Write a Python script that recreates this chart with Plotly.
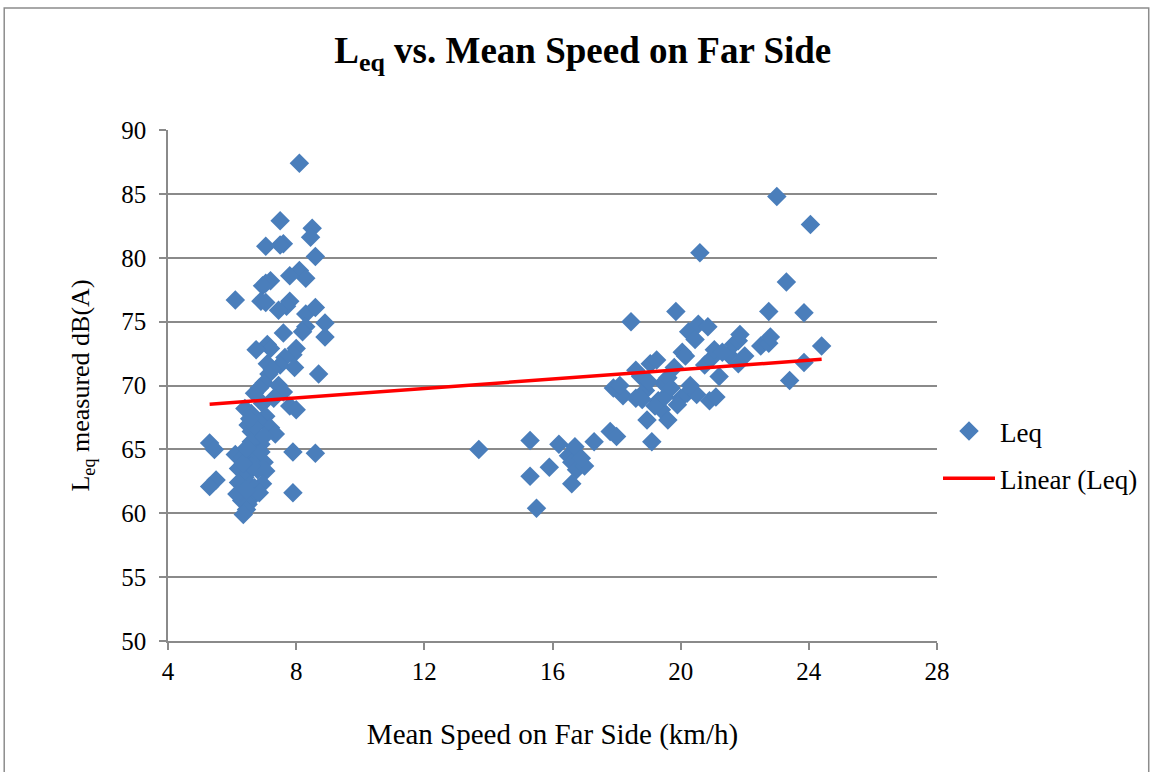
import numpy as np
import plotly.graph_objects as go

# Left cluster (low speed) and right cluster (high speed)
speed_low = [8.1, 7.5, 8.5, 8.45, 7.6, 7.5, 7.05, 8.6, 8.1, 8.3, 7.8, 7.2, 7.05, 6.95, 6.1, 6.9,
             7.05, 7.8, 7.7, 7.45, 8.3, 8.6, 8.9, 8.9, 8.3, 8.2, 7.6, 7.1, 7.2, 6.75, 8.0, 7.9,
             7.65, 7.5, 7.1, 7.25, 7.15, 7.95, 8.7, 7.0, 6.85, 6.7, 7.45, 7.6, 7.3, 7.8, 8.0,
             6.4, 6.6, 6.95, 7.05, 6.85, 6.5, 7.2, 7.35, 6.6, 6.8, 6.9, 6.6, 7.0, 5.3, 5.45,
             6.1, 7.9, 8.6, 6.3, 6.6, 7.0, 6.75, 6.2, 6.5, 6.8, 7.05, 6.4, 5.5, 5.3, 6.2, 6.55,
             6.95, 6.7, 7.9, 6.3, 6.65, 6.85, 6.5, 6.45, 6.35, 6.15, 6.45, 6.6, 6.35, 6.9, 6.45,
             6.7, 6.55]
leq_low = [87.4, 82.9, 82.3, 81.6, 81.1, 81.0, 80.9, 80.1, 79.0, 78.4, 78.6, 78.2, 78.0, 77.8, 76.7, 76.6,
           76.5, 76.6, 76.2, 75.9, 75.6, 76.1, 74.9, 73.8, 74.6, 74.2, 74.1, 73.2, 72.9, 72.8, 72.9, 72.4,
           72.2, 71.6, 71.7, 71.3, 70.9, 71.4, 70.9, 70.2, 69.8, 69.4, 70.0, 69.5, 69.0, 68.4, 68.1,
           68.2, 67.8, 68.6, 67.6, 67.1, 66.9, 66.7, 66.2, 66.4, 65.9, 65.4, 65.6, 66.0, 65.5, 65.0,
           64.6, 64.8, 64.7, 64.3, 64.1, 64.0, 64.6, 63.5, 63.2, 63.4, 63.3, 62.8, 62.6, 62.1, 62.4, 62.2,
           62.3, 62.0, 61.6, 61.0, 61.3, 61.6, 60.7, 60.3, 59.9, 61.5, 61.8, 63.7, 63.9, 64.8, 65.1,
           66.8, 67.4]

speed_high = [13.7, 15.3, 15.3, 15.5, 15.9, 16.2, 16.5, 16.6, 16.7, 16.75, 16.6, 17.0, 16.9, 17.3, 17.8,
              18.0, 17.9, 18.2, 18.1, 18.45, 18.6, 18.75, 18.6, 18.9, 19.05, 19.25, 18.95, 19.1, 19.3,
              19.4, 19.6, 19.5, 19.45, 19.6, 19.8, 19.85, 20.05, 20.15, 20.25, 20.45, 20.55, 20.6, 20.85,
              20.2, 20.5, 20.0, 20.75, 20.95, 20.9, 21.1, 21.05, 21.2, 21.5, 21.65, 21.8, 21.85, 22.0,
              21.8, 22.5, 22.75, 22.8, 22.75, 23.0, 23.3, 23.4, 23.85, 24.05, 23.85, 24.4, 19.2, 19.7,
              18.8, 19.0, 20.3, 19.9, 21.3]
leq_high = [65.0, 65.7, 62.9, 60.4, 63.6, 65.4, 64.5, 64.0, 65.2, 63.4, 62.3, 63.7, 64.3, 65.6, 66.4,
            66.0, 69.8, 69.2, 70.0, 75.0, 71.2, 70.7, 69.0, 69.6, 71.7, 72.0, 67.3, 65.6, 68.8,
            68.1, 67.3, 69.1, 70.2, 70.6, 71.4, 75.8, 72.6, 72.3, 74.2, 73.6, 74.8, 80.4, 74.6,
            69.4, 69.3, 69.0, 71.6, 72.1, 68.8, 69.1, 72.8, 70.7, 72.4, 73.2, 73.5, 74.0, 72.3,
            71.7, 73.1, 73.3, 73.8, 75.8, 84.8, 78.1, 70.4, 75.7, 82.6, 71.8, 73.1, 68.4, 69.8,
            68.9, 70.3, 70.0, 68.5, 72.6]

speed = np.array(speed_low + speed_high)
leq = np.array(leq_low + leq_high)

x_ticks = [4, 8, 12, 16, 20, 24, 28]
y_ticks = [50, 55, 60, 65, 70, 75, 80, 85, 90]

slope, intercept = np.polyfit(speed, leq, 1)
trend_x = np.array([speed.min(), speed.max()])
trend_y = slope * trend_x + intercept

FONT = "Liberation Serif, Times New Roman, serif"
GRID = "#8a8a8a"

fig = go.Figure()
fig.add_trace(go.Scatter(
    x=speed, y=leq, mode="markers", name="Leq", legendgroup="a",
    marker=dict(symbol="diamond", size=15, color="#4A7EBB", line=dict(width=0)),
))
fig.add_trace(go.Scatter(
    x=trend_x, y=trend_y, mode="lines", name="Linear (Leq)", legendgroup="b",
    line=dict(color="#FF0000", width=3.5),
))

fig.update_layout(
    width=1154, height=772,
    paper_bgcolor="white", plot_bgcolor="white",
    margin=dict(l=168, r=216, t=130, b=131),
    font=dict(family=FONT, color="black", size=25),
    title=dict(text="<b>L<sub>eq</sub> vs. Mean Speed on Far Side</b>",
               x=0.505, xanchor="center", y=0.935, yanchor="middle",
               font=dict(family=FONT, size=37, color="black")),
    legend=dict(x=1.0, xanchor="left", y=0.364, yanchor="middle",
                font=dict(family=FONT, size=27, color="black"),
                bgcolor="rgba(0,0,0,0)", tracegroupgap=9, itemwidth=52),
    shapes=[dict(type="rect", xref="paper", yref="paper",
                 x0=(4 - 168) / 770, x1=(1150 - 168) / 770,
                 y0=(641 - 790) / 511, y1=(641 - 8) / 511,
                 line=dict(color="#8c8c8c", width=1.5), fillcolor="rgba(0,0,0,0)", layer="below")],
)

fig.update_xaxes(
    range=[4, 28], tickvals=x_ticks, ticktext=[str(v) for v in x_ticks],
    showgrid=False, zeroline=False,
    showline=True, linecolor=GRID, linewidth=1.5,
    ticks="outside", ticklen=7, tickcolor=GRID, tickwidth=1.5,
    tickfont=dict(family=FONT, size=25),
    title=dict(text="Mean Speed on Far Side (km/h)", font=dict(family=FONT, size=29), standoff=40),
    automargin=False,
)
fig.update_yaxes(
    range=[50, 90], tickvals=y_ticks, ticktext=[str(v) for v in y_ticks],
    showgrid=True, gridcolor=GRID, gridwidth=1.5, zeroline=False,
    showline=True, linecolor=GRID, linewidth=1.5,
    ticks="outside", ticklen=7, tickcolor=GRID, tickwidth=1.5,
    ticklabelstandoff=8,
    tickfont=dict(family=FONT, size=25),
    title=dict(text="L<sub>eq</sub> measured dB(A)", font=dict(family=FONT, size=26), standoff=24),
    automargin=False,
)

fig.write_html("out.html")
